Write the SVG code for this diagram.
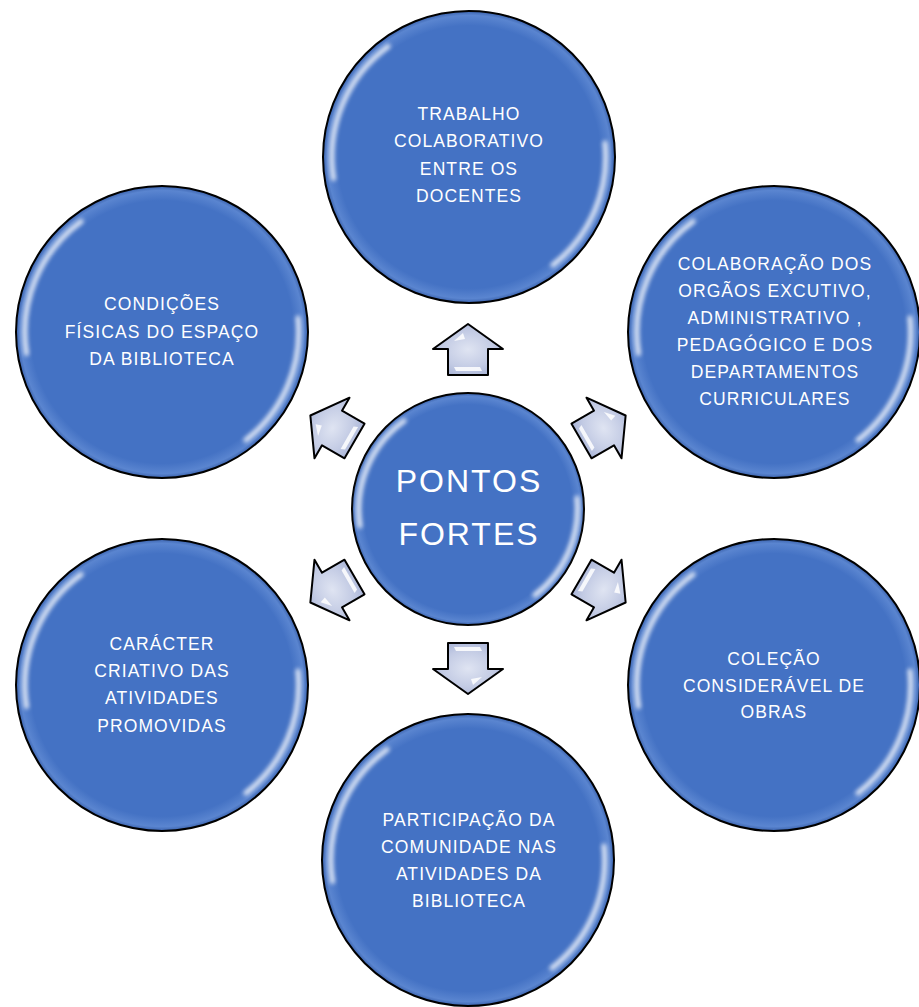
<svg xmlns="http://www.w3.org/2000/svg" xmlns:xlink="http://www.w3.org/1999/xlink" width="919" height="1007" viewBox="0 0 919 1007">
<style>
.lbl{font-family:"Liberation Sans",Arial,sans-serif;font-size:17.5px;letter-spacing:1.1px;fill:#ffffff;text-anchor:middle}
.big{font-family:"Liberation Sans",Arial,sans-serif;font-size:32px;letter-spacing:2px;fill:#ffffff;text-anchor:middle}
.disc{fill:url(#discGrad);stroke:#000;stroke-width:2}
.shine{fill:none;stroke:#ffffff;stroke-width:5;stroke-linecap:round;opacity:0.8;filter:url(#soft)}
.arrow{fill:url(#arrowGrad);stroke:#000;stroke-width:2;stroke-linejoin:round}
.glint{fill:#ffffff;opacity:0.85}
</style>
<defs>
<radialGradient id="discGrad" cx="0.5" cy="0.5" r="0.5">
<stop offset="0" stop-color="#4472C4"/>
<stop offset="0.9" stop-color="#4472C4"/>
<stop offset="0.97" stop-color="#5a85d0"/>
<stop offset="1" stop-color="#3a62ad"/>
</radialGradient>
<radialGradient id="arrowGrad" cx="0.5" cy="0.5" r="0.6">
<stop offset="0" stop-color="#dfe4f2"/>
<stop offset="0.6" stop-color="#c3cbe4"/>
<stop offset="1" stop-color="#a6b2d6"/>
</radialGradient>
<filter id="soft" x="-20%" y="-20%" width="140%" height="140%">
<feGaussianBlur stdDeviation="2"/>
</filter>
<g id="bubble">
<circle class="disc" cx="0" cy="0" r="146"/>
<path class="shine" d="M -135.5,21.5 A 137 137 0 0 1 -81,-110.5"/>
<path class="shine" d="M 136,-14 A 137 137 0 0 1 84,108"/>
</g>
<g id="arr">
<path class="arrow" d="M -26,-20 L 0,-20 L 0,-35 L 25,0 L 0,35 L 0,20 L -26,20 Z"/>
<path class="glint" d="M 8,-14 L 16,-5 L 10,-3 Z"/>
<path class="glint" d="M -22,-12 L -18,-14 L -18,12 L -22,14 Z"/>
</g>
</defs>

<g id="connectors">
<use xlink:href="#arr" href="#arr" transform="translate(468,349) rotate(-90)"/>
<use xlink:href="#arr" href="#arr" transform="translate(468,669) rotate(90)"/>
<use xlink:href="#arr" href="#arr" transform="translate(604,428) rotate(-30)"/>
<use xlink:href="#arr" href="#arr" transform="translate(604,590) rotate(30)"/>
<use xlink:href="#arr" href="#arr" transform="translate(332,590) rotate(150)"/>
<use xlink:href="#arr" href="#arr" transform="translate(332,428) rotate(210)"/>
</g>

<g id="center">
<circle class="disc" cx="468" cy="509" r="116"/>
<path class="shine" d="M 360,526 A 109 109 0 0 1 404,421"/>
<path class="shine" d="M 577,498 A 109 109 0 0 1 535,595"/>
<text class="big" x="469" y="492">PONTOS</text>
<text class="big" x="469" y="545">FORTES</text>
</g>

<g id="node-top">
<use xlink:href="#bubble" href="#bubble" transform="translate(469,157)"/>
<text class="lbl" x="469" y="120">TRABALHO</text>
<text class="lbl" x="469" y="147">COLABORATIVO</text>
<text class="lbl" x="469" y="175">ENTRE OS</text>
<text class="lbl" x="469" y="202">DOCENTES</text>
</g>

<g id="node-upper-right">
<use xlink:href="#bubble" href="#bubble" transform="translate(774,332)"/>
<text class="lbl" x="775" y="270">COLABORAÇÃO DOS</text>
<text class="lbl" x="775" y="297">ORGÃOS EXCUTIVO,</text>
<text class="lbl" x="775" y="324">ADMINISTRATIVO ,</text>
<text class="lbl" x="775" y="351">PEDAGÓGICO E DOS</text>
<text class="lbl" x="775" y="378">DEPARTAMENTOS</text>
<text class="lbl" x="775" y="405">CURRICULARES</text>
</g>

<g id="node-lower-right">
<use xlink:href="#bubble" href="#bubble" transform="translate(774,685)"/>
<text class="lbl" x="774" y="665">COLEÇÃO</text>
<text class="lbl" x="774" y="692">CONSIDERÁVEL DE</text>
<text class="lbl" x="774" y="718">OBRAS</text>
</g>

<g id="node-bottom">
<use xlink:href="#bubble" href="#bubble" transform="translate(468,860)"/>
<text class="lbl" x="469" y="826">PARTICIPAÇÃO DA</text>
<text class="lbl" x="469" y="853">COMUNIDADE NAS</text>
<text class="lbl" x="469" y="880">ATIVIDADES DA</text>
<text class="lbl" x="469" y="907">BIBLIOTECA</text>
</g>

<g id="node-lower-left">
<use xlink:href="#bubble" href="#bubble" transform="translate(162,685)"/>
<text class="lbl" x="162" y="650">CARÁCTER</text>
<text class="lbl" x="162" y="677">CRIATIVO DAS</text>
<text class="lbl" x="162" y="704">ATIVIDADES</text>
<text class="lbl" x="162" y="732">PROMOVIDAS</text>
</g>

<g id="node-upper-left">
<use xlink:href="#bubble" href="#bubble" transform="translate(162,332)"/>
<text class="lbl" x="162" y="310">CONDIÇÕES</text>
<text class="lbl" x="162" y="338">FÍSICAS DO ESPAÇO</text>
<text class="lbl" x="162" y="365">DA BIBLIOTECA</text>
</g>
</svg>
